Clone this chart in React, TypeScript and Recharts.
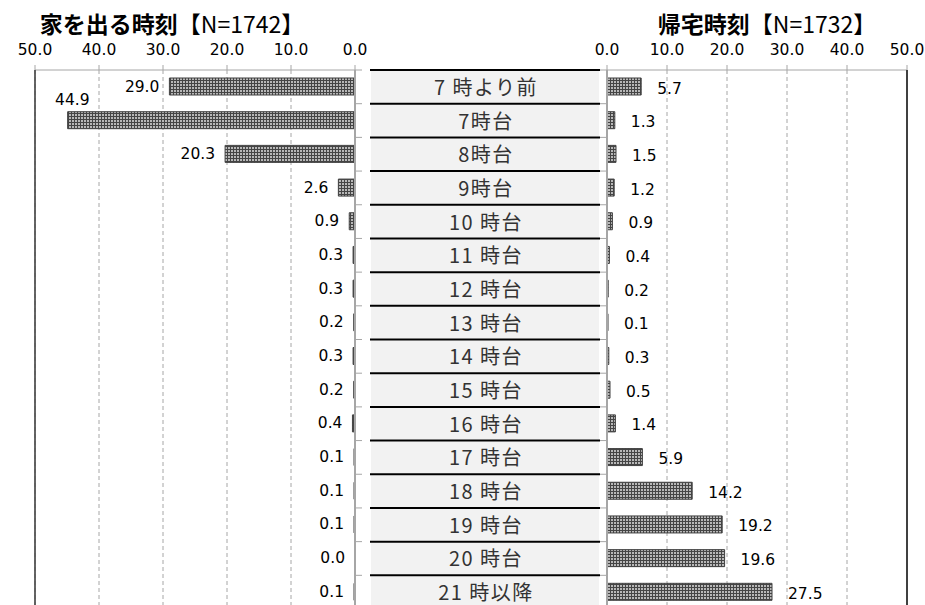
import React from 'react';
import { BarChart, Bar, XAxis, YAxis, CartesianGrid, LabelList, ReferenceArea, ReferenceLine } from 'recharts';

// ---- data ----
const categories = [
  '7 時より前', '7時台', '8時台', '9時台', '10 時台', '11 時台', '12 時台', '13 時台',
  '14 時台', '15 時台', '16 時台', '17 時台', '18 時台', '19 時台', '20 時台', '21 時以降',
];
const leaveHomeValues = [29.0, 44.9, 20.3, 2.6, 0.9, 0.3, 0.3, 0.2, 0.3, 0.2, 0.4, 0.1, 0.1, 0.1, 0.0, 0.1];
const returnHomeValues = [5.7, 1.3, 1.5, 1.2, 0.9, 0.4, 0.2, 0.1, 0.3, 0.5, 1.4, 5.9, 14.2, 19.2, 19.6, 27.5];
const axisTicks = [0, 10, 20, 30, 40, 50];
const leftTitle = '家を出る時刻';
const leftN = '【N=1742】';
const rightTitle = '帰宅時刻';
const rightN = '【N=1732】';

const leftData = categories.map((cat, i) => ({ cat, v: leaveHomeValues[i] }));
const rightData = categories.map((cat, i) => ({ cat, v: returnHomeValues[i] }));

// ---- layout constants ----
const CHART_H = 625;
const TOP = 70;
const BOTTOM_MARGIN = 16;
const ROW_H = (CHART_H - BOTTOM_MARGIN - TOP) / categories.length;
const NUM_FONT = 'DejaVu Sans, Verdana, sans-serif';
const JP_FONT = '"Noto Sans CJK JP", "Noto Sans", sans-serif';
const GRID = '#a6a6a6';
const NUM_SIZE = 15.5;

const fmt = (v: number) => v.toFixed(1);

const Hatch = ({ id }: { id: string }) => (
  <defs>
    <pattern id={id} width="3" height="3" patternUnits="userSpaceOnUse">
      <rect width="3" height="3" fill="#454545" />
      <rect width="2" height="2" fill="#b8b8b8" />
    </pattern>
  </defs>
);

const getBox = (p: any) => {
  const vb = p.viewBox && typeof p.viewBox.x === 'number' ? p.viewBox : p;
  return { x: Number(vb.x), y: Number(vb.y), w: Number(vb.width), h: Number(vb.height) };
};

const LeftLabel = (p: any) => {
  const { x, y, w, h } = getBox(p);
  const end = Math.min(x, x + w);
  const txt = fmt(Number(p.value));
  const tw = txt.length * 10;
  const fits = end - 10 - tw > 36;
  const tx = fits ? end - 10 : end + 22;
  const ty = fits ? y + h / 2 : y - 12;
  return (
    <text x={tx} y={ty} textAnchor="end" dominantBaseline="central" fontSize={NUM_SIZE} fontFamily={NUM_FONT} fill="#000">
      {txt}
    </text>
  );
};

const RightLabel = (p: any) => {
  const { x, y, w, h } = getBox(p);
  const end = Math.max(x, x + w);
  return (
    <text x={end + 16} y={y + h / 2 + 2} textAnchor="start" dominantBaseline="central" fontSize={NUM_SIZE} fontFamily={NUM_FONT} fill="#000">
      {fmt(Number(p.value))}
    </text>
  );
};

const LeftBoundaryTick = (p: any) => {
  const { x, y } = p;
  const top = y - ROW_H / 2;
  return <line x1={x} x2={x + 7} y1={top} y2={top} stroke={GRID} strokeWidth={1} />;
};

const MiddleTick = (p: any) => {
  const { x, y, payload, index } = p;
  const top = y - ROW_H / 2;
  const bottom = y + ROW_H / 2;
  const isLast = index === categories.length - 1;
  return (
    <g>
      <rect x={x - 236} y={top + 1} width={228} height={ROW_H - 2} fill="#f2f2f2" />
      <line x1={x - 237} x2={x - 7} y1={top} y2={top} stroke="#000" strokeWidth={2} />
      {isLast && <line x1={x - 237} x2={x - 7} y1={bottom} y2={bottom} stroke="#000" strokeWidth={2} />}
      <line x1={x - 7} x2={x} y1={top} y2={top} stroke={GRID} strokeWidth={1} />
      <text x={x - 121} y={y - 0.5} textAnchor="middle" dominantBaseline="central" fontSize={20} letterSpacing={1.5} fontFamily={JP_FONT} fill="#333">
        {payload.value}
      </text>
    </g>
  );
};

const tickStyle = { fontSize: NUM_SIZE, fill: '#000', fontFamily: NUM_FONT };

export default function App() {
  return (
    <div style={{ position: 'absolute', left: 0, top: 0, width: 925, height: 605, overflow: 'hidden', background: '#fff' }}>
      <div style={{ position: 'absolute', left: 0, top: 9, width: 344, textAlign: 'center', fontFamily: JP_FONT, fontSize: 23, lineHeight: '28px', color: '#000', whiteSpace: 'nowrap' }}>
        <span style={{ fontWeight: 700 }}>{leftTitle}</span>
        <span>{leftN}</span>
      </div>
      <div style={{ position: 'absolute', left: 617, top: 9, width: 300, textAlign: 'center', fontFamily: JP_FONT, fontSize: 23, lineHeight: '28px', color: '#000', whiteSpace: 'nowrap' }}>
        <span style={{ fontWeight: 700 }}>{rightTitle}</span>
        <span>{rightN}</span>
      </div>

      <div style={{ position: 'absolute', left: 0, top: 0 }}>
        <BarChart width={370} height={CHART_H} layout="vertical" data={leftData}
          margin={{ top: TOP - 25, right: 0, bottom: BOTTOM_MARGIN, left: 35 }}>
          <Hatch id="hatchL" />
          <CartesianGrid horizontal={false} stroke={GRID} strokeDasharray="4 3" />
          <XAxis type="number" domain={[0, 50]} ticks={axisTicks} reversed orientation="top" height={25}
            axisLine={false} tickLine={{ stroke: GRID }} tickSize={5} tickMargin={10}
            tick={tickStyle} tickFormatter={fmt} allowDataOverflow />
          <YAxis type="category" dataKey="cat" orientation="right" width={15} interval={0}
            axisLine={{ stroke: GRID, strokeWidth: 2 }} tickLine={false} tickSize={0} tickMargin={0}
            tick={(p: any) => <LeftBoundaryTick {...p} />} />
          <ReferenceArea x1={0} x2={50} fill="none" stroke={GRID} strokeWidth={1} />
          <ReferenceLine x={50} stroke="#404040" strokeWidth={1.5} />
          <Bar dataKey="v" fill="url(#hatchL)" stroke="#404040" strokeWidth={1} barSize={17} minPointSize={1} isAnimationActive={false}>
            <LabelList dataKey="v" content={(p: any) => <LeftLabel {...p} />} />
          </Bar>
        </BarChart>
      </div>

      <div style={{ position: 'absolute', left: 365, top: 0 }}>
        <BarChart width={560} height={CHART_H} layout="vertical" data={rightData}
          margin={{ top: TOP - 25, right: 18, bottom: BOTTOM_MARGIN, left: 0 }}>
          <Hatch id="hatchR" />
          <CartesianGrid horizontal={false} stroke={GRID} strokeDasharray="4 3" />
          <XAxis type="number" domain={[0, 50]} ticks={axisTicks} orientation="top" height={25}
            axisLine={false} tickLine={{ stroke: GRID }} tickSize={5} tickMargin={10}
            tick={tickStyle} tickFormatter={fmt} allowDataOverflow />
          <YAxis type="category" dataKey="cat" orientation="left" width={242} interval={0}
            axisLine={{ stroke: GRID, strokeWidth: 2 }} tickLine={false} tickSize={0} tickMargin={0}
            tick={(p: any) => <MiddleTick {...p} />} />
          <ReferenceArea x1={0} x2={50} fill="none" stroke={GRID} strokeWidth={1} />
          <ReferenceLine x={50} stroke="#404040" strokeWidth={2} />
          <Bar dataKey="v" fill="url(#hatchR)" stroke="#404040" strokeWidth={1} barSize={17} minPointSize={1} isAnimationActive={false}>
            <LabelList dataKey="v" content={(p: any) => <RightLabel {...p} />} />
          </Bar>
        </BarChart>
      </div>
    </div>
  );
}
